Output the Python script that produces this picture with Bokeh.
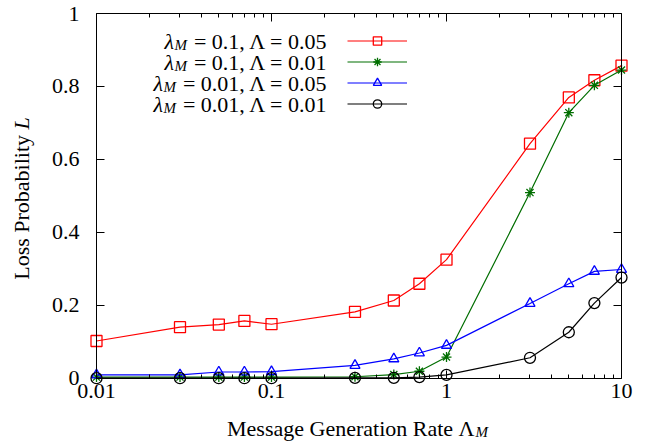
from math import pi
import math
from bokeh.plotting import figure
from bokeh.models import (Range1d, FixedTicker, CustomJSTickFormatter, LogAxis,
                          LinearAxis, Label, Legend, LegendItem)
from bokeh.embed import file_html
from bokeh.resources import INLINE

# ---------------- data ----------------
rate = [0.01, 0.03, 0.05, 0.07, 0.1, 0.3, 0.5, 0.7, 1, 3, 5, 7, 10]
loss_l01_L005 = [0.102, 0.140, 0.147, 0.157, 0.148, 0.182, 0.213, 0.259, 0.325, 0.643, 0.770, 0.817, 0.857]
loss_l01_L001 = [0.003, 0.003, 0.003, 0.003, 0.003, 0.004, 0.010, 0.019, 0.058, 0.509, 0.728, 0.803, 0.845]
loss_l001_L005 = [0.009, 0.009, 0.017, 0.017, 0.018, 0.035, 0.053, 0.069, 0.090, 0.205, 0.259, 0.293, 0.298]
loss_l001_L001 = [0.000, 0.000, 0.000, 0.000, 0.000, 0.001, 0.001, 0.003, 0.009, 0.056, 0.126, 0.206, 0.276]

lambda_m = ["0.1", "0.1", "0.01", "0.01"]
Lambda = ["0.05", "0.01", "0.05", "0.01"]
series = [loss_l01_L005, loss_l01_L001, loss_l001_L005, loss_l001_L001]

x_ticks = [0.01, 0.1, 1, 10]
y_ticks = [0, 0.2, 0.4, 0.6, 0.8, 1]
x_lo, x_hi = 0.01, 10
y_lo, y_hi = 0, 1

# ---------------- style / layout ----------------
colors = ["#ff0000", "#006e00", "#0000ff", "#000000"]
markers = ["square", "asterisk", "triangle", "circle"]
msizes = [11, 10, 10, 11]
FONT = "Liberation Serif"
FS = 22
SUB = 15
BC = 0.3 * FS          # empirical correction of the label baseline

W, H = 646, 444
# pixel box of the visible plot area
PL, PR, PT, PB = 96.0, 621.0, 13.0, 377.7

# Times-like advance widths (em)
TW = {' ': .25, 'M': .889, 'e': .444, 's': .389, 'a': .444, 'g': .5, 'G': .722,
      'n': .5, 'r': .333, 't': .278, 'i': .278, 'o': .5, 'R': .667, 'L': .611,
      'P': .556, 'b': .5, 'l': .278, 'y': .5, '=': .564, '.': .25, ',': .25,
      'Λ': .722}
TWI = {'M': .833, 'L': .556, 'λ': .5}


def tw(s, size=FS, italic=False):
    tab = TWI if italic else TW
    return sum(tab.get(c, TW.get(c, .5)) for c in s) * size


# extend the ranges so that the frame spans the whole canvas; the axes are
# pinned to the data box with fixed_location
dec = (PR - PL) / (math.log10(x_hi) - math.log10(x_lo))
xs = 10 ** (math.log10(x_lo) - PL / dec)
xe = 10 ** (math.log10(x_hi) + (W - PR) / dec)
ppu = (PB - PT) / (y_hi - y_lo)
ys = y_lo - (H - PB) / ppu
ye = y_hi + PT / ppu

p = figure(width=W, height=H, x_axis_type="log",
           x_range=Range1d(xs, xe), y_range=Range1d(ys, ye),
           output_backend="svg", toolbar_location=None,
           min_border_left=0, min_border_right=0,
           min_border_top=0, min_border_bottom=0)
p.outline_line_color = None
p.xgrid.visible = False
p.ygrid.visible = False
p.background_fill_color = "white"
p.border_fill_color = "white"

minor = [k * 10.0 ** e for e in (-2, -1, 0) for k in range(2, 10)]
xt = FixedTicker(ticks=x_ticks, minor_ticks=minor)
yt = FixedTicker(ticks=y_ticks, minor_ticks=[])

xfmt = CustomJSTickFormatter(code="return tick.toString();")
yfmt = CustomJSTickFormatter(code="return (Math.round(tick*10)/10).toString();")
nofmt = CustomJSTickFormatter(code="return '';")


def style_axis(ax, ticker, fmt, minor_len, show=True):
    ax.ticker = ticker
    ax.formatter = fmt
    ax.axis_line_color = "black"
    ax.axis_line_width = 1
    ax.major_tick_line_color = "black"
    ax.minor_tick_line_color = "black"
    ax.major_tick_in = 8
    ax.major_tick_out = 0
    ax.minor_tick_in = minor_len
    ax.minor_tick_out = 0
    ax.major_label_text_font = FONT
    ax.major_label_text_color = "black"
    ax.major_label_text_font_size = f"{FS}px" if show else "1px"


bx = p.xaxis[0]
style_axis(bx, xt, xfmt, 4)
bx.major_label_standoff = 6
bx.fixed_location = y_lo
bx.bounds = (x_lo, x_hi)

ly = p.yaxis[0]
style_axis(ly, yt, yfmt, 0)
ly.major_label_standoff = 17
ly.fixed_location = x_lo
ly.bounds = (y_lo, y_hi)

top = LogAxis(fixed_location=y_hi, bounds=(x_lo, x_hi))
style_axis(top, xt, nofmt, 4, show=False)
top.major_label_standoff = 0
p.add_layout(top, "above")
right = LinearAxis(fixed_location=x_hi, bounds=(y_lo, y_hi))
style_axis(right, yt, nofmt, 0, show=False)
right.major_label_standoff = 0
p.add_layout(right, "right")

items = []
for ysr, c, m, ms in zip(series, colors, markers, msizes):
    lr = p.line(rate, ysr, line_color=c, line_width=1.2)
    sr = p.scatter(rate, ysr, marker=m, size=ms, fill_color=None,
                   line_color=c, line_width=1.3)
    items.append(LegendItem(label=" ", renderers=[lr, sr]))

# legend glyph column (line + marker); its texts are drawn to its left
ROW0, DROW = 41.0, 21
leg = Legend(items=items, orientation="vertical",
             location=(round(346.7), round(H - (ROW0 - DROW / 2 + 4 * DROW))),
             glyph_width=60, glyph_height=DROW, spacing=0,
             label_standoff=0, label_width=0, label_height=0,
             label_text_font_size="1px", padding=0, margin=0,
             border_line_color=None, background_fill_alpha=0)
p.add_layout(leg)


def lab(ix, iy, text, size=FS, style="normal", align="left", angle=0.0):
    p.add_layout(Label(x=ix, y=H - iy, x_units="screen", y_units="screen",
                       text=text, text_font=FONT, text_font_size=f"{size}px",
                       text_font_style=style, text_align=align,
                       text_baseline="alphabetic", angle=angle,
                       text_color="black"))


# legend texts (right-aligned)
XR = 327.7
for i, (lm, L) in enumerate(zip(lambda_m, Lambda)):
    base = ROW0 + i * DROW + 0.32 * FS - BC
    rest = f"= {lm}, Λ = {L}"
    lab(XR, base, rest, align="right")
    m_right = XR - tw(rest) - 7
    lab(m_right, base + 3.5, "M", size=SUB, style="italic", align="right")
    l_right = m_right - tw("M", SUB, True) - 0.5
    lab(l_right, base, "λ", style="italic", align="right")

# x axis title: Message Generation Rate Λ_M
t1 = "Message Generation Rate "
total = tw(t1) + tw("Λ") + tw("M", SUB, True) + 1
x0 = 357 - total / 2
xb = 435 - BC
lab(x0, xb, t1)
lab(x0 + tw(t1), xb, "Λ")
lab(x0 + tw(t1) + tw("Λ") + 1, xb + 3.5, "M", size=SUB, style="italic")

# y axis title: Loss Probability L (rotated)
t2 = "Loss Probability "
totv = tw(t2) + tw("L", FS, True)
ystart = 198 + totv / 2
yb = 28 - 1.1 * BC
lab(yb, ystart, t2, angle=pi / 2)
lab(yb, ystart - tw(t2), "L", style="italic", angle=pi / 2)

open("out.html", "w").write(file_html(p, INLINE))
